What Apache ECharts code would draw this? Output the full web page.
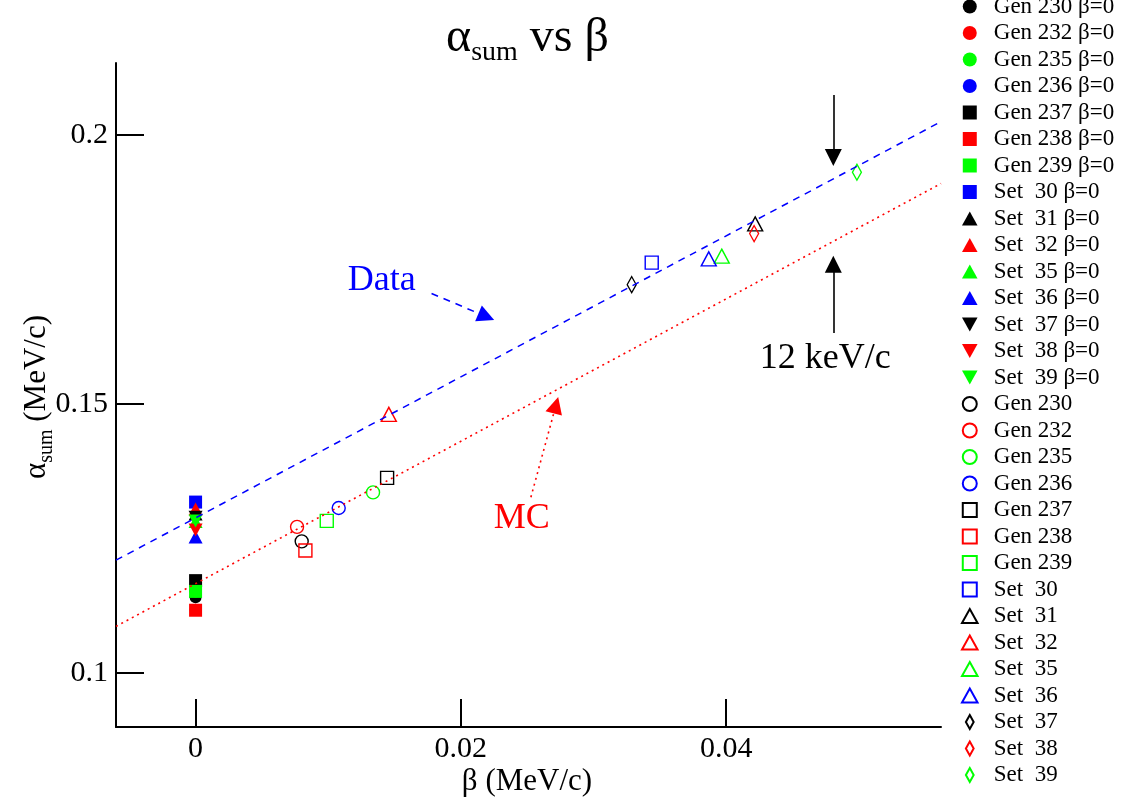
<!DOCTYPE html>
<html><head><meta charset="utf-8">
<script src="https://cdn.jsdelivr.net/npm/echarts@6/dist/echarts.min.js"></script>
<style>html,body{margin:0;padding:0;background:#fff}#c{width:1121px;height:798px}</style>
</head><body><div id="c"></div>
<script>
// ---- data ----
const zeroNames = ['Gen 230 β=0','Gen 232 β=0','Gen 235 β=0','Gen 236 β=0','Gen 237 β=0','Gen 238 β=0','Gen 239 β=0',
  'Set  30 β=0','Set  31 β=0','Set  32 β=0','Set  35 β=0','Set  36 β=0','Set  37 β=0','Set  38 β=0','Set  39 β=0'];
const openNames = ['Gen 230','Gen 232','Gen 235','Gen 236','Gen 237','Gen 238','Gen 239',
  'Set  30','Set  31','Set  32','Set  35','Set  36','Set  37','Set  38','Set  39'];
const zeroBeta  = [0,0,0,0,0,0,0,0,0,0,0,0,0,0,0];
const zeroAlpha = [0.1141,0.1118,0.1152,0.1153,0.1172,0.1117,0.1152,0.1318,0.1296,0.1305,0.1282,0.1253,0.1290,0.1266,0.1283];
const openBeta  = [0.0080,0.00765,0.01338,0.01079,0.01444,0.00828,0.00989,0.03439,0.04219,0.01457,0.03967,0.03869,0.03288,0.04211,0.04986];
const openAlpha = [0.1245,0.1272,0.1336,0.1307,0.1363,0.1228,0.1283,0.1763,0.1835,0.1481,0.1775,0.1770,0.1722,0.1817,0.1931];
const fitBeta   = [-0.006, 0.0562];
const dataFitAlpha = [0.1210, 0.2025];
const mcFitAlpha   = [0.1087, 0.1910];
const xTicks = [0, 0.02, 0.04];
const yTicks = [0.1, 0.15, 0.2];
// annotations (data coordinates)
const dataArrow = [[0.01779,0.17058],[0.02192,0.16626]];
const mcArrow   = [[0.02528,0.13271],[0.02717,0.14981]];
const downArrow = [[0.04808,0.20743],[0.04808,0.19582]];
const upArrow   = [[0.04808,0.16320],[0.04808,0.17602]];
const notes = [
  {text:'Data', pos:[0.01404,0.17305], color:'#0000ff'},
  {text:'MC', pos:[0.0246,0.12881], color:'#ff0000'},
  {text:'12 keV/c', pos:[0.04747,0.15855], color:'#000000'}
];

// ---- styles ----
const FONT = '"Liberation Serif", "DejaVu Serif", serif';
const colors = ['#000000','#ff0000','#00ff00','#0000ff','#000000','#ff0000','#00ff00','#0000ff',
  '#000000','#ff0000','#00ff00','#0000ff','#000000','#ff0000','#00ff00'];
const SQ = 'path://M0,0 L10,0 L10,10 L0,10 Z';
const UP = 'path://M5,0 L10,9 L0,9 Z';
const DOWN = 'path://M0,0 L10,0 L5,9 Z';
const DIAM = 'path://M5,0 L10,9 L5,18 L0,9 Z';
const zeroSym = ['circle','circle','circle','circle',SQ,SQ,SQ,SQ,UP,UP,UP,UP,DOWN,DOWN,DOWN];
const zeroSize = [12,12,12,12,13,13,13,13,[14,13],[14,13],[14,13],[14,13],[14,13],[14,13],[14,13]];
const openSym = ['circle','circle','circle','circle',SQ,SQ,SQ,SQ,UP,UP,UP,UP,DIAM,DIAM,DIAM];
const openSize = [13,13,13,13,13,13,13,13,[15,14],[15,14],[15,14],[15,14],[9,16],[9,16],[9,16]];

const series = [];
zeroNames.forEach((n,i)=>{
  series.push({name:n, type:'scatter', symbol:zeroSym[i], symbolSize:zeroSize[i],
    data:[[zeroBeta[i], zeroAlpha[i]]], itemStyle:{color:colors[i], opacity:1}, z:2});
});
openNames.forEach((n,i)=>{
  series.push({name:n, type:'scatter', symbol:openSym[i], symbolSize:openSize[i],
    data:[[openBeta[i], openAlpha[i]]],
    itemStyle:{color:'rgba(0,0,0,0)', borderColor:colors[i], borderWidth:1.4, opacity:1}, z:2});
});
series.push({name:'dataFit', type:'line', data:fitBeta.map((b,i)=>[b,dataFitAlpha[i]]), symbol:'none', z:3,
  lineStyle:{color:'#0000ff', width:1.5, type:[7,6]}});
series.push({name:'mcFit', type:'line', data:fitBeta.map((b,i)=>[b,mcFitAlpha[i]]), symbol:'none', z:3,
  lineStyle:{color:'#ff0000', width:1.6, type:[2,4]}});
function arrow(name, pts, color, type){
  return {name, type:'scatter', data:[], z:4,
    markLine:{silent:true, symbol:['none','triangle'], symbolSize:17, animation:false,
      label:{show:false}, lineStyle:{color, width:1.6, type},
      data:[[{coord:pts[0]},{coord:pts[1]}]]}};
}
series.push(arrow('a1', dataArrow, '#0000ff', [7,6]));
series.push(arrow('a2', mcArrow, '#ff0000', [2,4]));
series.push(arrow('a3', downArrow, '#000000', 'solid'));
series.push(arrow('a4', upArrow, '#000000', 'solid'));

const chart = echarts.init(document.getElementById('c'), null, {renderer:'canvas'});
chart.setOption({
  animation:false,
  backgroundColor:'#ffffff',
  grid:{left:116, right:180, top:63, bottom:71, containLabel:false, outerBoundsMode:'none'},
  xAxis:{type:'value', min:-0.006, max:0.0562, splitLine:{show:false},
    axisLine:{show:true, onZero:false, lineStyle:{color:'#000', width:2}},
    axisTick:{show:true, inside:true, length:28, lineStyle:{color:'#000', width:2}, customValues:xTicks},
    axisLabel:{customValues:xTicks, formatter:v=>String(v), color:'#000', fontSize:30, fontFamily:FONT, margin:7}},
  yAxis:{type:'value', min:0.09, max:0.2134, splitLine:{show:false},
    axisLine:{show:true, onZero:false, lineStyle:{color:'#000', width:2}},
    axisTick:{show:true, inside:true, length:28, lineStyle:{color:'#000', width:2}, customValues:yTicks},
    axisLabel:{customValues:yTicks, formatter:v=>String(v), color:'#000', fontSize:30, fontFamily:FONT, margin:8}},
  legend:{orient:'vertical', left:961, top:-5, padding:0, itemWidth:38, itemHeight:14, itemGap:3.5,
    data:zeroNames.concat(openNames), selectedMode:false, symbolKeepAspect:true,
    textStyle:{fontFamily:FONT, fontSize:23, color:'#000'}},
  series
});
const noteGraphics = notes.map(n=>{
  const p = chart.convertToPixel({gridIndex:0}, n.pos);
  return {type:'text', x:p[0], y:p[1], silent:true, z:10,
    style:{text:n.text, fill:n.color, font:'36px '+FONT, align:'center', verticalAlign:'middle'}};
});
chart.setOption({graphic:[
  {type:'text', left:446, top:14, style:{text:'{a|α}{s|sum}{a| vs β}', fill:'#000',
    rich:{a:{fontFamily:FONT, fontSize:48, lineHeight:58, verticalAlign:'middle', fill:'#000'},
          s:{fontFamily:FONT, fontSize:28, lineHeight:28, verticalAlign:'bottom', fill:'#000'}}}},
  {type:'text', x:527, y:797, style:{text:'β (MeV/c)', fill:'#000', font:'31px '+FONT, align:'center', verticalAlign:'bottom'}},
  {type:'text', x:37, y:397, rotation:Math.PI/2, style:{text:'{a|α}{s|sum}{a| (MeV/c)}', fill:'#000', align:'center', verticalAlign:'middle',
    rich:{a:{fontFamily:FONT, fontSize:31, lineHeight:40, verticalAlign:'middle', fill:'#000'},
          s:{fontFamily:FONT, fontSize:20, lineHeight:20, verticalAlign:'bottom', fill:'#000'}}}}
].concat(noteGraphics)});
</script></body></html>
